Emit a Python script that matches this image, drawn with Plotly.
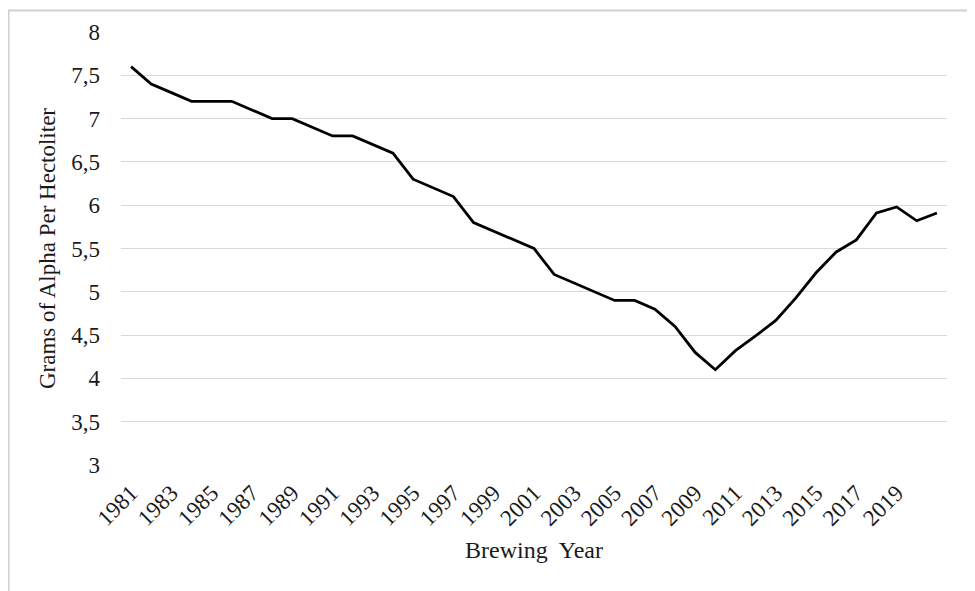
import plotly.graph_objects as go

years = [str(y) for y in range(1981, 2022)]
alpha = [7.60, 7.40, 7.30, 7.20, 7.20, 7.20, 7.10, 7.00, 7.00, 6.90,
         6.80, 6.80, 6.70, 6.60, 6.30, 6.20, 6.10, 5.80, 5.70, 5.60,
         5.50, 5.20, 5.10, 5.00, 4.90, 4.90, 4.80, 4.60, 4.30, 4.10,
         4.32, 4.49, 4.67, 4.93, 5.22, 5.46, 5.60, 5.91, 5.98, 5.82,
         5.91]
x_tick_labels = [str(y) for y in range(1981, 2020, 2)]
y_tick_vals = [3, 3.5, 4, 4.5, 5, 5.5, 6, 6.5, 7, 7.5, 8]
y_tick_text = ["3", "3,5", "4", "4,5", "5", "5,5", "6", "6,5", "7", "7,5", "8"]

# page has an 8px body margin, so the figure is shrunk/offset accordingly
OFF = 8
W, H = 975 - OFF, 591 - OFF
ML, MR, MT, MB = 121 - OFF, 28, 30 - OFF, 126
PW, PH = W - ML - MR, H - MT - MB

font_family = "Liberation Serif, Times New Roman, serif"
text_color = "#1a1a1a"

fig = go.Figure()
fig.add_trace(go.Scatter(
    x=years, y=alpha, mode="lines",
    line=dict(color="#000000", width=2.8),
    hoverinfo="x+y", showlegend=False,
))

fig.update_layout(
    width=W, height=H,
    margin=dict(l=ML, r=MR, t=MT, b=MB),
    paper_bgcolor="white", plot_bgcolor="white",
    font=dict(family=font_family, color=text_color, size=22),
    xaxis=dict(
        type="category", range=[-0.5, len(years) - 0.5],
        tickmode="array", tickvals=x_tick_labels, ticktext=x_tick_labels,
        tickangle=-45, showgrid=False, zeroline=False, showline=False,
        ticks="", ticklabelstandoff=9,
        tickfont=dict(size=23, family=font_family, color=text_color),
        title=dict(text="Brewing  Year", standoff=11,
                   font=dict(size=24, family=font_family, color=text_color)),
    ),
    yaxis=dict(
        range=[3, 8], tickmode="array", tickvals=y_tick_vals, ticktext=y_tick_text,
        showgrid=True, gridcolor="#d9d9d9", gridwidth=1,
        zeroline=False, showline=False, ticks="", ticklabelstandoff=20,
        tickfont=dict(size=23, family=font_family, color=text_color),
        title=dict(text="Grams of Alpha Per Hectoliter", standoff=9,
                   font=dict(size=23, family=font_family, color=text_color)),
    ),
    shapes=[
        dict(type="rect", xref="paper", yref="paper",
             x0=(0.5 - ML) / PW, x1=(W + 20 - ML) / PW,
             y0=(MT + PH - (H + 20)) / PH, y1=(MT + PH - 0.5) / PH,
             line=dict(color="#d0d0d0", width=2), fillcolor="rgba(0,0,0,0)",
             layer="below"),
    ],
)

fig.write_html("out.html")
